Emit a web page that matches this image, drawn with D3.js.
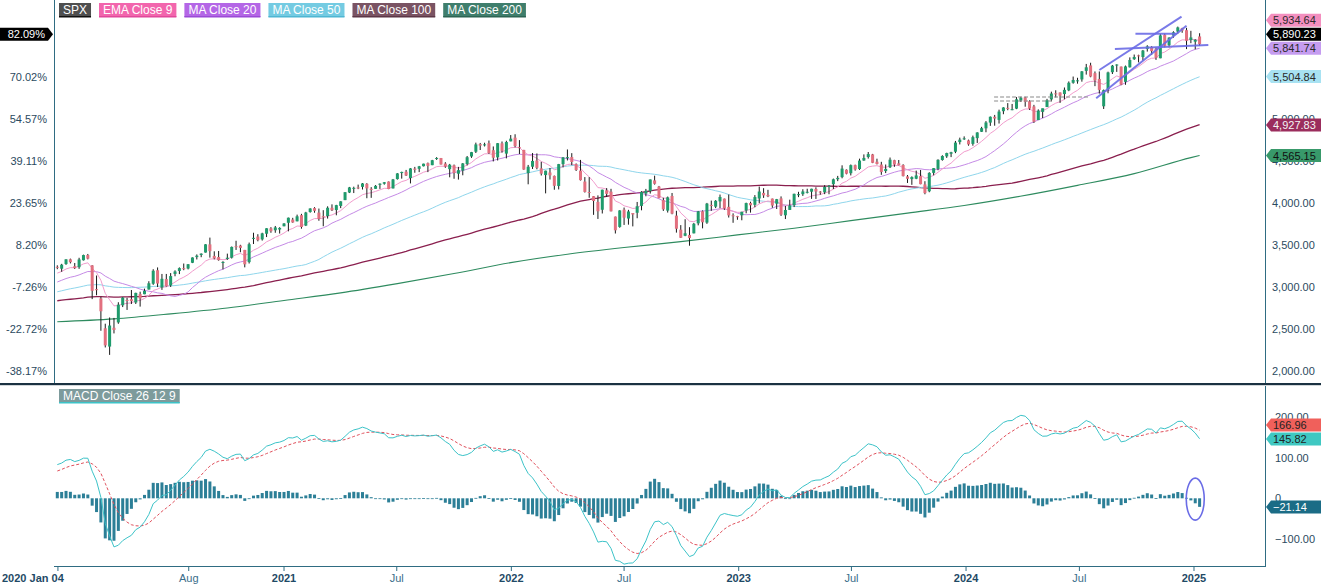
<!DOCTYPE html>
<html><head><meta charset="utf-8">
<script src="https://cdn.jsdelivr.net/npm/d3@7"></script>
<style>body{margin:0;background:#fff;} svg text{font-family:"Liberation Sans",Arial,sans-serif;}</style>
</head><body><svg id="c" width="1321" height="586"></svg>
<script>
// ---------- DATA ----------
const startDate = "2020-01-03"; // first weekly bar (week ending)
const opens = [
3240.1,3217.6,3273.4,3330.0,3247.2,3235.7,3318.3,3380.4,3257.6,2974.3,2863.9,2508.6,2290.7,2514.9,2578.3,2782.5,2845.6,2854.7,2815.0,2915.5,
2913.9,2969.9,3038.8,3199.9,2993.8,3094.4,3018.6,3155.3,3191.0,3224.3,3219.8,3288.3,3356.0,3380.9,3410.0,3507.4,3369.8,3357.0,3285.6,3333.9,
3349.0,3485.7,3493.5,3441.4,3296.2,3583.0,3600.2,3566.8,3634.0,3698.1,3675.3,3684.3,3723.0,
3764.6,3803.1,3781.9,3855.4,3731.2,3892.6,3939.6,3885.6,3842.5,3844.4,3943.0,3916.5,3965.0,4034.4,4124.7,4174.1,4185.1,4192.0,4228.3,4169.1,
4168.6,4216.5,4229.3,4255.3,4173.4,4284.9,4356.5,4372.4,4296.4,4409.6,4406.9,4437.8,4474.1,4450.3,4529.8,4535.4,4469.7,4402.9,4449.0,4348.8,
4385.4,4463.7,4553.7,4610.6,4701.5,4689.3,4712.0,4628.8,4543.1,4710.3,4587.9,4734.0,
4778.1,4664.0,4632.2,4356.3,4431.8,4505.8,4412.6,4332.7,4363.1,4322.6,4202.8,4462.4,4541.1,4547.0,4462.6,4385.8,4255.3,4130.6,4081.3,4013.0,
3919.4,4151.1,4134.7,3838.2,3715.3,3920.8,3815.1,3880.9,3883.8,3965.7,4112.4,4142.2,4269.4,4195.1,4034.6,3909.4,4083.7,3849.9,3682.7,3609.8,
3619.7,3638.7,3758.0,3901.8,3766.7,3977.0,3956.0,4019.7,4052.0,3954.2,3853.8,3843.3,
3853.3,3910.8,3999.3,3978.1,4053.7,4119.6,4096.6,4052.4,3992.4,4055.1,3853.6,3917.5,3974.1,4102.2,4105.0,4123.0,4134.5,4166.8,4136.0,4126.7,
4190.8,4224.2,4283.0,4308.3,4396.4,4354.2,4450.5,4404.5,4505.3,4547.4,4578.8,4491.6,4458.1,4380.3,4426.0,4510.0,4472.4,4452.8,4316.7,4284.5,
4289.0,4320.1,4221.0,4139.4,4358.3,4407.0,4511.7,4554.9,4586.0,4610.5,4725.6,4758.9,
4745.2,4703.7,4772.4,4848.0,4888.9,4957.2,5026.8,4989.3,5093.0,5132.4,5112.0,5123.3,5219.5,5258.0,5211.4,5149.7,4987.3,5084.7,5142.4,5233.1,
5305.4,5315.9,5297.2,5341.2,5431.1,5459.6,5471.1,5572.8,5638.2,5545.6,5476.6,5151.1,5353.6,5557.2,5636.3,5623.9,5442.1,5615.2,5711.9,5757.7,
5737.8,5833.7,5857.8,5833.6,5723.2,6003.6,5878.5,5992.3,6040.1,6081.1,6057.6,5940.3,
5920.7,5982.8];
const highs = [
3258.1,3275.6,3329.9,3337.8,3285.9,3348.0,3385.1,3393.5,3259.8,3136.7,2882.6,2563.0,2637.0,2632.0,2818.6,2879.2,2871.0,2964.2,2932.0,2944.3,
2980.3,3068.7,3211.7,3233.0,3155.5,3155.5,3165.8,3198.6,3233.1,3279.3,3272.0,3352.5,3387.9,3400.0,3509.4,3588.1,3424.8,3428.9,3306.9,3397.2,
3482.0,3550.5,3502.4,3441.4,3529.0,3646.0,3628.5,3645.8,3699.2,3712.4,3726.7,3711.2,3760.2,
3826.7,3823.6,3861.5,3870.9,3894.6,3937.5,3950.4,3933.6,3914.5,3960.3,3983.9,3978.2,4020.6,4129.5,4191.3,4194.2,4218.8,4238.0,4236.4,4188.7,
4213.4,4233.5,4249.7,4256.6,4286.1,4355.8,4372.9,4393.7,4415.2,4430.0,4441.4,4468.0,4481.6,4513.3,4545.9,4536.0,4485.9,4465.4,4457.7,4430.0,
4475.8,4559.7,4608.1,4718.5,4714.9,4717.8,4743.8,4673.0,4713.6,4732.0,4740.7,4808.9,
4818.6,4748.8,4632.2,4453.2,4595.3,4590.0,4489.6,4385.0,4416.8,4327.0,4465.4,4546.0,4637.3,4593.5,4471.0,4512.9,4308.5,4307.7,4081.3,4090.7,
4158.5,4177.5,4168.8,3838.2,3913.7,3945.9,3918.5,3880.9,4012.4,4140.2,4167.7,4280.5,4325.3,4203.0,4063.0,4076.8,4119.3,3907.1,3736.7,3806.9,
3712.0,3762.8,3905.4,3911.8,4001.0,4028.8,4034.0,4100.5,4052.5,4101.0,3876.9,3846.7,
3895.1,4004.0,4015.4,4094.2,4195.4,4176.5,4156.8,4052.4,4048.3,4078.5,3964.5,4039.5,4110.8,4133.1,4164.0,4169.5,4170.0,4186.9,4142.3,4212.9,
4212.9,4290.7,4322.6,4448.5,4400.1,4458.5,4456.5,4527.8,4578.4,4607.1,4584.6,4527.4,4490.3,4458.3,4541.3,4514.3,4512.0,4461.0,4333.2,4317.3,
4385.5,4393.6,4259.4,4366.2,4415.3,4520.1,4568.4,4598.5,4609.2,4738.6,4778.0,4793.3,
4754.3,4802.4,4842.1,4906.7,4975.3,5030.0,5048.4,5111.1,5140.3,5189.3,5179.1,5261.1,5264.9,5264.0,5222.5,5168.4,5114.6,5123.5,5239.7,5325.5,
5341.9,5315.9,5375.1,5447.3,5505.5,5490.8,5570.3,5655.6,5669.7,5566.2,5566.2,5351.0,5563.6,5643.2,5651.4,5623.9,5636.3,5733.6,5767.4,5765.1,
5822.1,5878.5,5866.9,5850.9,6012.5,6017.3,5972.9,6044.2,6100.0,6085.2,6085.2,6049.8,
5949.3,6021.0];
const lows = [
3212.0,3181.0,3263.6,3280.7,3214.6,3216.0,3315.2,3328.5,2855.8,2901.5,2478.9,2280.5,2191.9,2447.5,2562.0,2761.0,2727.1,2797.9,2797.9,2766.6,
2913.9,2969.9,3025.8,2999.5,2965.7,3004.6,3000.6,3127.7,3153.5,3200.1,3209.5,3284.5,3327.8,3354.7,3410.0,3349.6,3329.3,3313.6,3209.5,3323.7,
3339.0,3441.0,3413.7,3233.9,3279.7,3511.9,3543.8,3552.8,3594.4,3645.8,3645.8,3636.5,3723.0,
3662.7,3764.8,3781.9,3694.1,3725.6,3884.9,3884.1,3788.6,3723.3,3814.5,3904.4,3853.5,3939.0,4034.4,4118.4,4118.4,4165.0,4160.5,4056.9,4061.4,
4168.6,4167.6,4217.9,4164.4,4173.4,4278.6,4290.0,4321.7,4233.1,4360.0,4367.7,4435.5,4367.7,4450.3,4513.3,4457.7,4418.6,4305.9,4288.5,4278.9,
4329.9,4447.5,4537.4,4595.1,4630.9,4672.9,4585.4,4495.1,4506.3,4600.2,4531.1,4734.0,
4662.7,4582.2,4395.3,4222.6,4405.0,4401.4,4327.2,4114.7,4279.5,4157.9,4161.7,4424.3,4506.6,4450.3,4381.3,4267.6,4124.3,4062.5,3858.9,3810.3,
3875.1,4073.0,3900.2,3636.9,3705.7,3738.7,3742.1,3721.6,3818.6,3913.1,4079.8,4112.1,4218.7,4057.7,3906.0,3886.2,3865.8,3647.5,3584.1,3604.9,
3491.6,3638.7,3733.9,3698.2,3751.8,3906.5,3938.9,3939.6,3918.4,3827.1,3764.5,3800.3,
3794.3,3877.3,3885.5,3949.1,3997.3,4060.8,4069.8,3943.1,3928.2,3846.3,3808.9,3917.5,3951.5,4069.8,4084.3,4114.0,4049.4,4048.3,4098.7,4105.4,
4104.0,4166.2,4260.2,4293.9,4341.3,4328.1,4385.0,4393.6,4503.0,4528.6,4474.6,4458.9,4335.3,4356.3,4416.3,4430.5,4448.4,4316.5,4238.6,4216.5,
4283.8,4223.0,4103.8,4128.0,4329.6,4389.8,4503.9,4537.2,4546.5,4593.4,4697.2,4751.0,
4682.1,4682.1,4714.8,4845.2,4842.3,4918.1,4920.3,4946.0,5056.8,5104.4,5104.4,5117.5,5203.4,5146.1,5107.9,4953.6,4987.3,5011.1,5142.4,5211.2,
5256.9,5191.7,5234.3,5331.3,5420.3,5420.5,5444.4,5528.6,5497.0,5391.0,5302.4,5119.3,5306.4,5535.6,5561.0,5402.6,5407.0,5613.1,5703.5,5674.0,
5696.1,5802.6,5762.4,5703.8,5723.2,5853.0,5853.0,5967.7,6016.0,6026.4,5832.3,5902.6,
5829.5,5870.0];
const closes = [
3234.85,3265.35,3329.62,3295.47,3225.52,3327.71,3380.16,3337.75,2954.22,2972.37,2711.02,2304.92,2541.47,2488.65,2789.82,2874.56,2836.74,2830.71,2929.80,2863.70,
2955.45,3044.31,3193.93,3041.31,3097.74,3009.05,3130.01,3185.04,3224.73,3215.63,3271.12,3351.28,3372.85,3397.16,3508.01,3426.96,3340.97,3319.47,3298.46,3348.44,
3477.14,3483.81,3465.39,3269.96,3509.44,3585.15,3557.54,3638.35,3699.12,3663.46,3709.41,3703.06,3756.07,
3824.68,3768.25,3841.47,3714.24,3886.83,3934.83,3906.71,3811.15,3841.94,3943.34,3913.10,3974.54,4019.87,4128.80,4185.47,4180.17,4181.17,4232.60,4173.85,4155.86,
4204.11,4229.89,4247.44,4166.45,4280.70,4352.34,4369.55,4327.16,4411.79,4395.26,4436.52,4468.00,4441.67,4509.37,4535.43,4458.58,4432.99,4455.48,4357.04,4391.34,
4471.37,4544.90,4605.38,4697.53,4682.85,4697.96,4594.62,4538.43,4712.02,4620.64,4725.79,4766.18,
4677.03,4662.85,4397.94,4431.85,4500.53,4418.64,4348.87,4384.65,4328.87,4204.31,4463.12,4543.06,4545.86,4488.28,4392.59,4271.78,4131.93,4123.34,4023.89,3901.36,
4158.24,4108.54,3900.86,3674.84,3911.74,3825.33,3899.38,3863.16,3961.63,4130.29,4145.19,4280.15,4228.48,4057.66,3924.26,4067.36,3873.33,3693.23,3585.62,3639.66,
3583.07,3752.75,3901.06,3770.55,3992.93,3965.34,4026.12,4071.70,3934.38,3852.36,3844.82,3839.50,
3895.08,3999.09,3972.61,4070.56,4136.48,4090.46,4079.09,3970.04,4045.64,3861.59,3916.64,3970.99,4109.31,4105.02,4137.64,4133.52,4169.48,4136.25,4124.08,4191.98,
4205.45,4282.37,4298.86,4409.59,4348.33,4450.38,4398.95,4505.42,4536.34,4582.23,4478.03,4464.05,4369.71,4405.71,4515.77,4457.49,4450.32,4320.06,4288.05,4308.50,
4327.78,4224.16,4117.37,4358.34,4415.24,4514.02,4559.34,4594.63,4604.37,4719.19,4754.63,4769.83,
4697.24,4783.83,4839.81,4890.97,4958.61,5026.61,5005.57,5088.80,5137.08,5123.69,5117.09,5234.18,5254.35,5204.34,5123.41,4967.23,5099.96,5127.79,5222.68,5303.27,
5304.72,5277.51,5346.99,5431.60,5464.62,5460.48,5567.19,5615.35,5505.00,5459.10,5346.56,5344.16,5554.25,5634.61,5648.40,5408.42,5626.02,5702.55,5738.17,5751.07,
5815.03,5864.67,5808.12,5728.80,5995.54,5870.62,5969.34,6032.38,6090.27,6051.09,5930.85,5970.84,
5942.47,5890.23];
// weekly closes of 2018-2019, before the visible window (indicator warm-up)
const priorCloses = [
2743.15,2786.24,2810.30,2872.87,2762.13,2619.55,2732.22,2747.30,2691.25,2786.57,2752.01,2588.26,2640.87,2604.47,2656.30,2670.14,2669.91,2663.42,2727.72,2712.97,
2721.33,2734.62,2779.03,2779.42,2754.88,2718.37,2759.82,2801.31,2801.83,2818.82,2840.35,2833.28,2850.13,2874.69,2901.52,2871.68,2904.98,2929.67,2913.98,2885.57,
2767.13,2767.78,2658.69,2723.06,2781.01,2736.27,2632.56,2760.17,2633.08,2599.95,2416.62,2485.74,
2531.94,2596.26,2670.71,2664.76,2706.53,2707.88,2775.60,2792.67,2803.69,2743.07,2822.48,2800.71,2834.40,2892.74,2907.41,2905.03,2939.88,2945.64,2881.40,2859.53,
2826.06,2752.06,2873.34,2886.98,2950.46,2941.76,2990.41,3013.77,2976.61,3025.86,2932.05,2918.65,2888.68,2847.11,2926.46,2978.71,3007.39,2992.07,2961.79,2952.01,
2970.27,2986.20,3022.55,3066.91,3093.08,3120.46,3110.29,3140.98,3145.91,3168.80,3221.22,3240.02];
// MA Close 200
const ma200Dates  = ["2020-01-03","2020-04-03","2020-07-03","2020-10-02","2021-01-01","2021-04-02","2021-07-02","2021-10-01","2021-12-31","2022-04-01","2022-07-01","2022-09-30","2022-12-30","2023-03-31","2023-06-30","2023-09-29","2023-12-29","2024-03-28","2024-06-28","2024-09-27","2024-12-27","2025-01-10"];
const ma200Values = [2586,2620,2680,2750,2840,2930,3040,3160,3290,3390,3470,3540,3620,3700,3790,3880,3970,4080,4210,4350,4540,4565.15];
// last values shown in the tags
const lastValues = {ema9:5934.64, close:5890.23, ma20:5841.74, ma50:5504.84, ma100:4927.83, ma200:4565.15, signal:166.96, macd:145.82, hist:-21.14};
const priceTicks = [2000,2500,3000,3500,4000,4500,5000];
const macdTicks = [-100,0,100,200];
const xTickDates  = ["2020-01-04","2020-08-01","2021-01-01","2021-07-01","2022-01-01","2022-07-01","2023-01-01","2023-07-01","2024-01-01","2024-07-01","2025-01-01"];
const xTickLabels = ["2020 Jan 04","Aug","2021","Jul","2022","Jul","2023","Jul","2024","Jul","2025"];
const legendNames = ["SPX","EMA Close 9","MA Close 20","MA Close 50","MA Close 100","MA Close 200"];
// hand-drawn annotations: [date, price]
const trendLines = [
  [["2024-08-02",5583],["2024-12-12",6218]],
  [["2024-07-28",5246],["2024-12-20",6110]],
  [["2024-08-27",5833],["2025-01-24",5881]],
  [["2024-09-29",6015],["2024-12-04",6015]]
];
const dashedLines = [
  [["2024-02-15",5262],["2024-07-18",5262]],
  [["2024-02-15",5214],["2024-05-20",5214]]
];
const macdEllipse = {date:"2025-01-03", value:-2};

// ---------- INDICATORS ----------
function ema(a,n){const k=2/(n+1);let p=a[0];return a.map((v,i)=>(p=i===0?v:v*k+p*(1-k)));}
function sma(a,n){return a.map((v,i)=>i<n-1?null:d3.mean(a.slice(i-n+1,i+1)));}
const all = priorCloses.concat(closes), off = priorCloses.length, N = closes.length;
const ema9 = ema(all,9).slice(off), ma20=sma(all,20).slice(off), ma50=sma(all,50).slice(off), ma100=sma(all,100).slice(off);
const e12=ema(all,12), e26=ema(all,26);
const macdAll=e12.map((v,i)=>v-e26[i]); const sigAll=ema(macdAll,9);
const macd=macdAll.slice(off), signal=sigAll.slice(off), hist=macd.map((v,i)=>v-signal[i]);

// ---------- SCALES ----------
const svg = d3.select("#c");
const t0 = new Date(startDate+"T00:00:00Z");
const idxOf = d => (new Date(d+"T00:00:00Z")-t0)/(7*864e5);
const x = d3.scaleLinear().domain([0,262]).range([57.3,1199.6]);
const y = d3.scaleLinear().domain([2000,4000]).range([371,203]);
const base = closes[0];
const yPct = d3.scaleLinear().domain([(2000/base-1)*100,(4000/base-1)*100]).range([371,203]);
const yM = d3.scaleLinear().domain([-100,200]).range([538.9,417.1]);
const L=54, R=1265, mainTop=0, mainBot=383, mTop=386, mBot=566;
const axisCol="#2f6c82", txtCol="#2b4a60";

const defs=svg.append("defs");
defs.append("clipPath").attr("id","cm").append("rect").attr("x",L).attr("y",mainTop).attr("width",R-L).attr("height",mainBot-mainTop);
defs.append("clipPath").attr("id","cd").append("rect").attr("x",L).attr("y",mTop).attr("width",R-L).attr("height",mBot-mTop);

// ---------- MAIN PANEL ----------
const gm = svg.append("g").attr("clip-path","url(#cm)");
const lineOf = (arr,sc)=>d3.line().defined(d=>d!=null).x((d,i)=>x(i)).y(d=>sc(d))(arr);
gm.append("path").attr("d",d3.line().curve(d3.curveMonotoneX).x(d=>x(idxOf(d[0]))).y(d=>y(d[1]))(ma200Dates.map((d,i)=>[d,ma200Values[i]])))
  .attr("fill","none").attr("stroke","#2e8b5f").attr("stroke-width",1.1);
gm.append("path").attr("d",lineOf(ma100,y)).attr("fill","none").attr("stroke","#8a1f4e").attr("stroke-width",1.3);
gm.append("path").attr("d",lineOf(ma50,y)).attr("fill","none").attr("stroke","#8fd6ec").attr("stroke-width",1);
gm.append("path").attr("d",lineOf(ma20,y)).attr("fill","none").attr("stroke","#c58ae6").attr("stroke-width",1);
gm.append("path").attr("d",lineOf(ema9,y)).attr("fill","none").attr("stroke","#f29ccd").attr("stroke-width",1);

const candles = gm.append("g");
closes.forEach((c,i)=>{
  const o=opens[i], up=c>=o;
  candles.append("line").attr("x1",x(i)).attr("x2",x(i)).attr("y1",y(highs[i])).attr("y2",y(lows[i])).attr("stroke","#1a1a1a").attr("stroke-width",1);
  const yt=y(Math.max(o,c)), yb=y(Math.min(o,c));
  candles.append("rect").attr("x",x(i)-1.5).attr("width",3).attr("y",yt).attr("height",Math.max(1,yb-yt))
    .attr("fill",up?"#1f9b6c":"#e2707f");
});
// annotations
dashedLines.forEach(l=>gm.append("line").attr("x1",x(idxOf(l[0][0]))).attr("y1",y(l[0][1])).attr("x2",x(idxOf(l[1][0]))).attr("y2",y(l[1][1]))
  .attr("stroke","#8a8a8a").attr("stroke-width",1.2).attr("stroke-dasharray","4,2"));
trendLines.forEach(l=>gm.append("line").attr("x1",x(idxOf(l[0][0]))).attr("y1",y(l[0][1])).attr("x2",x(idxOf(l[1][0]))).attr("y2",y(l[1][1]))
  .attr("stroke","#6a6ce6").attr("stroke-width",2).attr("stroke-opacity",0.9));

// axes lines
svg.append("line").attr("x1",L+0.5).attr("x2",L+0.5).attr("y1",0).attr("y2",mainBot).attr("stroke",axisCol);
svg.append("line").attr("x1",R+0.5).attr("x2",R+0.5).attr("y1",0).attr("y2",mainBot).attr("stroke",axisCol);
svg.append("line").attr("x1",R+0.5).attr("x2",R+0.5).attr("y1",mTop).attr("y2",mBot).attr("stroke",axisCol);
svg.append("line").attr("x1",L).attr("x2",R+1).attr("y1",mBot+0.5).attr("y2",mBot+0.5).attr("stroke",axisCol);
svg.append("rect").attr("x",0).attr("y",mainBot).attr("width",1321).attr("height",2.2).attr("fill","#1b3242");

// right price axis
const fmt = d3.format(",.2f");
const ra = svg.append("g").attr("transform",`translate(${R},0)`).call(d3.axisRight(y).tickValues(priceTicks).tickSize(0).tickPadding(7).tickFormat(fmt));
ra.select(".domain").remove();
ra.selectAll("text").attr("font-size",11).attr("fill",txtCol).attr("font-family","Liberation Sans, Arial, sans-serif");
// left percent axis
const la = svg.append("g").attr("transform",`translate(${L-7},0)`).call(d3.axisLeft(yPct).tickValues(priceTicks.concat([5500]).map(p=>(p/base-1)*100)).tickSize(0).tickPadding(0).tickFormat(v=>v.toFixed(2)+"%"));
la.select(".domain").remove();
la.selectAll("text").attr("font-size",11).attr("fill",txtCol).attr("font-family","Liberation Sans, Arial, sans-serif");

// ---------- MACD PANEL ----------
const gd = svg.append("g").attr("clip-path","url(#cd)");
hist.forEach((h,i)=>{
  const y0=yM(0), y1=yM(h);
  gd.append("rect").attr("x",x(i)-1.5).attr("width",3).attr("y",Math.min(y0,y1)).attr("height",Math.max(0.8,Math.abs(y1-y0))).attr("fill","#2c7f97");
});
gd.append("path").attr("d",lineOf(signal,yM)).attr("fill","none").attr("stroke","#e0505c").attr("stroke-width",1).attr("stroke-dasharray","3,2");
gd.append("path").attr("d",lineOf(macd,yM)).attr("fill","none").attr("stroke","#3cc3c8").attr("stroke-width",1);
gd.append("ellipse").attr("cx",x(idxOf(macdEllipse.date))).attr("cy",yM(macdEllipse.value)).attr("rx",9).attr("ry",21)
  .attr("fill","none").attr("stroke","#6a6ce6").attr("stroke-width",1.6);
const ma = svg.append("g").attr("transform",`translate(${R},0)`).call(d3.axisRight(yM).tickValues(macdTicks).tickSize(0).tickPadding(10).tickFormat(v=>v===0?"0":fmt(v)));
ma.select(".domain").remove();
ma.selectAll("text").attr("font-size",11).attr("fill",txtCol).attr("font-family","Liberation Sans, Arial, sans-serif");

// ---------- X AXIS ----------
const xa = svg.append("g");
xTickDates.forEach((d,i)=>{
  const xx = x(idxOf(d)); const yearLbl = i===0 || /^\d{4}$/.test(xTickLabels[i]);
  xa.append("line").attr("x1",xx).attr("x2",xx).attr("y1",mBot).attr("y2",mBot+5).attr("stroke",axisCol);
  xa.append("text").attr("x",i===0?2:xx).attr("y",582).attr("text-anchor",i===0?"start":"middle")
    .attr("font-size",11).attr("font-weight",yearLbl?"bold":"normal").attr("fill",yearLbl?"#1f4a66":"#3a6d8a").text(xTickLabels[i]);
});

// ---------- LEGENDS ----------
const legCols = ["#4f4f4f","#f266ad","#b466e6","#74cbe2","#7a5363","#3f7e6c"];
const legLine = ["#111","#e0489a","#9a4ad6","#4fb6d2","#5c3646","#2c6453"];
let lx = 59;
legendNames.forEach((n,i)=>{
  const g = svg.append("g");
  const t = g.append("text").attr("x",lx+4).attr("y",14).attr("font-size",12).attr("fill","#fff").text(n);
  const w = t.node().getComputedTextLength()+8;
  g.insert("rect","text").attr("x",lx).attr("y",3).attr("width",w).attr("height",14).attr("fill",legCols[i]);
  g.insert("rect","text").attr("x",lx).attr("y",16).attr("width",w).attr("height",1.5).attr("fill",legLine[i]);
  lx += w + 8;
});
{
  const g = svg.append("g");
  const t = g.append("text").attr("x",63).attr("y",400).attr("font-size",12).attr("fill","#fff").text("MACD Close 26 12 9");
  const w = t.node().getComputedTextLength()+8;
  g.insert("rect","text").attr("x",59).attr("y",389).attr("width",w).attr("height",14).attr("fill","#7d9b9c");
  g.insert("rect","text").attr("x",59).attr("y",402).attr("width",w).attr("height",1.5).attr("fill","#3cc3c8");
}

// ---------- VALUE TAGS ----------
function stack(tags){ tags.sort((a,b)=>b.y-a.y); for(let i=1;i<tags.length;i++){ if(tags[i].y>tags[i-1].y-14) tags[i].y=tags[i-1].y-14; } return tags; }
const mainTags = stack([
  {v:lastValues.ema9, y:y(lastValues.ema9), bg:"#f38fbf", fg:"#2a2a2a"},
  {v:lastValues.close, y:y(lastValues.close), bg:"#000", fg:"#fff", close:true},
  {v:lastValues.ma20, y:y(lastValues.ma20), bg:"#c59cf0", fg:"#2a2a2a"},
  {v:lastValues.ma50, y:y(lastValues.ma50), bg:"#a8e2f2", fg:"#2a2a2a"},
  {v:lastValues.ma100, y:y(lastValues.ma100), bg:"#9b2d5d", fg:"#f4f4f4"},
  {v:lastValues.ma200, y:y(lastValues.ma200), bg:"#38996a", fg:"#111"}
]);
const macdTags = stack([
  {v:lastValues.signal, y:yM(lastValues.signal), bg:"#f0605b", fg:"#222"},
  {v:lastValues.macd, y:yM(lastValues.macd), bg:"#3fc8c2", fg:"#222"},
  {v:lastValues.hist, y:yM(lastValues.hist), bg:"#1b6c86", fg:"#fff"}
]);
function drawTag(t){
  const h=6.5, yc=t.y;
  svg.append("path").attr("d",`M${R+1},${yc} L${R+6},${yc-h} L1321,${yc-h} L1321,${yc+h} L${R+6},${yc+h} Z`).attr("fill",t.bg);
  svg.append("text").attr("x",R+8).attr("y",yc+4).attr("font-size",11).attr("fill",t.fg).text(fmt(t.v));
}
mainTags.forEach(drawTag); macdTags.forEach(drawTag);
const ct = mainTags.find(t=>t.close);
svg.append("path").attr("d",`M0,${ct.y-6.5} L48,${ct.y-6.5} L53,${ct.y} L48,${ct.y+6.5} L0,${ct.y+6.5} Z`).attr("fill","#000");
svg.append("text").attr("x",45).attr("y",ct.y+4).attr("text-anchor","end").attr("font-size",11).attr("fill","#fff").text(((lastValues.close/base-1)*100).toFixed(2)+"%");
</script></body></html>
